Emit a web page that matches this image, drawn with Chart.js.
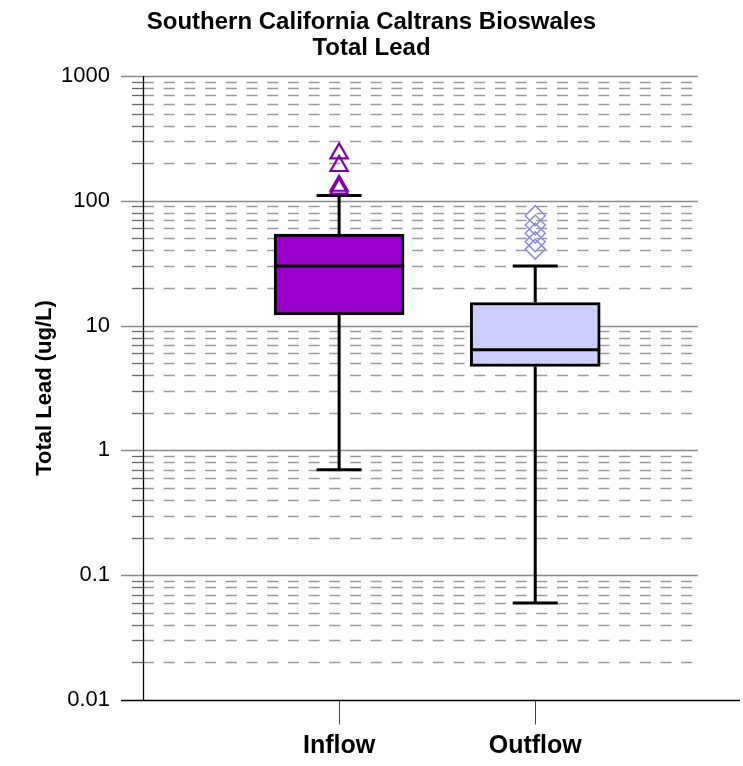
<!DOCTYPE html>
<html><head><meta charset="utf-8">
<script src="https://cdn.jsdelivr.net/npm/chart.js@4/dist/chart.umd.min.js"></script>
<style>html,body{margin:0;padding:0;background:#fff}</style>
</head><body>
<canvas id="c" width="743" height="766" style="display:block;width:743px;height:766px"></canvas>
<script>
// ---- data ----
const categories = ['Inflow', 'Outflow'];
const categoryPositions = [1, 2];
const whiskerLow = [0.7, 0.06];
const quartile1 = [12.2, 4.7];
const medians = [30, 6.4];
const quartile3 = [54, 15.3];
const whiskerHigh = [110, 30];
const inflowOutliers = [240, 190, 132, 125];
const outflowOutliers = [76, 64, 55, 47, 41];
const yTickValues = [0.01, 0.1, 1, 10, 100, 1000];
const yTickLabels = ['0.01', '0.1', '1', '10', '100', '1000'];
const minorSteps = [2, 3, 4, 5, 6, 7, 8, 9];
const boxColors = ['#9900CC', '#CCCCFF'];

const FONT = "'Liberation Sans', Arial, sans-serif";

const decor = {
  id: 'decor',
  beforeDatasetsDraw(chart) {
    const {ctx, chartArea: ca, scales: {x, y}} = chart;
    ctx.save();
    for (let d = 0; d < yTickValues.length - 1; d++) {
      for (const m of minorSteps) {
        const py = Math.round(y.getPixelForValue(yTickValues[d] * m)) + 0.5;
        ctx.setLineDash([]);
        ctx.strokeStyle = '#666';
        ctx.lineWidth = 1.3;
        ctx.beginPath(); ctx.moveTo(ca.left - 11, py); ctx.lineTo(ca.left, py); ctx.stroke();
        ctx.setLineDash([11, 9.7]);
        ctx.strokeStyle = '#9a9a9a';
        ctx.beginPath(); ctx.moveTo(ca.left, py); ctx.lineTo(ca.right, py); ctx.stroke();
      }
    }
    ctx.setLineDash([]);
    yTickValues.forEach((v, i) => {
      if (i === 0) return;
      const py = Math.round(y.getPixelForValue(v)) + 0.5;
      ctx.strokeStyle = '#8a8a8a';
      ctx.lineWidth = 1.3;
      ctx.beginPath(); ctx.moveTo(ca.left - 22, py); ctx.lineTo(ca.right, py); ctx.stroke();
    });
    ctx.strokeStyle = '#000';
    ctx.lineWidth = 1.3;
    ctx.beginPath(); ctx.moveTo(ca.left + 0.5, ca.top); ctx.lineTo(ca.left + 0.5, ca.bottom); ctx.stroke();
    const by = Math.round(y.getPixelForValue(yTickValues[0])) + 0.5;
    ctx.lineWidth = 1.6;
    ctx.beginPath(); ctx.moveTo(ca.left - 22, by); ctx.lineTo(chart.width - 3, by); ctx.stroke();
    ctx.strokeStyle = '#444';
    ctx.lineWidth = 1;
    categoryPositions.forEach(p => {
      const px = Math.round(x.getPixelForValue(p)) + 0.5;
      ctx.beginPath(); ctx.moveTo(px, by); ctx.lineTo(px, by + 24); ctx.stroke();
    });
    ctx.restore();
  },
  afterDatasetDraw(chart, args) {
    if (args.index !== 0) return;
    const {ctx, scales: {x, y}} = chart;
    const meta = chart.getDatasetMeta(0);
    ctx.save();
    ctx.strokeStyle = '#000';
    ctx.lineWidth = 3;
    categoryPositions.forEach((p, i) => {
      const px = x.getPixelForValue(p);
      const bar = meta.data[i];
      const half = bar.width / 2;
      const yHi = y.getPixelForValue(whiskerHigh[i]);
      const yLo = y.getPixelForValue(whiskerLow[i]);
      const yQ1 = y.getPixelForValue(quartile1[i]);
      const yQ3 = y.getPixelForValue(quartile3[i]);
      const yMed = y.getPixelForValue(medians[i]);
      ctx.beginPath();
      ctx.moveTo(px, yQ3); ctx.lineTo(px, yHi);
      ctx.moveTo(px, yQ1); ctx.lineTo(px, yLo);
      ctx.moveTo(px - 22.5, yHi); ctx.lineTo(px + 22.5, yHi);
      ctx.moveTo(px - 22.5, yLo); ctx.lineTo(px + 22.5, yLo);
      ctx.moveTo(bar.x - half, yMed); ctx.lineTo(bar.x + half, yMed);
      ctx.stroke();
    });
    ctx.restore();
  }
};

new Chart(document.getElementById('c'), {
  type: 'bar',
  data: {
    datasets: [
      {
        type: 'bar',
        order: 2,
        data: categoryPositions.map((p, i) => ({x: p, y: [quartile1[i], quartile3[i]]})),
        backgroundColor: boxColors,
        borderColor: '#000',
        borderWidth: 3,
        borderSkipped: false,
        barThickness: 130
      },
      {
        type: 'scatter',
        order: 1,
        data: inflowOutliers.map(v => ({x: categoryPositions[0], y: v})),
        pointStyle: 'triangle',
        radius: 10,
        borderWidth: 2.2,
        borderColor: '#8000A8',
        backgroundColor: 'rgba(255,255,255,0)'
      },
      {
        type: 'scatter',
        order: 1,
        data: outflowOutliers.map(v => ({x: categoryPositions[1], y: v})),
        pointStyle: 'rectRot',
        radius: 10,
        borderWidth: 1.5,
        borderColor: '#8C8CD0',
        backgroundColor: 'rgba(255,255,255,0)'
      }
    ]
  },
  options: {
    responsive: false,
    animation: false,
    devicePixelRatio: 1,
    layout: {padding: 0},
    plugins: {
      legend: {display: false},
      tooltip: {enabled: false},
      title: {
        display: true,
        text: ['Southern California Caltrans Bioswales', 'Total Lead'],
        color: '#000',
        font: {family: FONT, size: 24, weight: 'bold', lineHeight: 1.083},
        padding: {top: 9, bottom: 15}
      }
    },
    scales: {
      x: {
        type: 'linear',
        position: 'bottom',
        offset: false,
        min: 0,
        max: 2.83,
        grid: {display: false, drawTicks: false},
        border: {display: false},
        afterBuildTicks: s => { s.ticks = categoryPositions.map(v => ({value: v})); },
        afterFit: s => { s.height = 66; },
        ticks: {
          autoSkip: false,
          maxRotation: 0,
          padding: 31,
          color: '#000',
          font: {family: FONT, size: 25, weight: 'bold'},
          callback: v => categories[categoryPositions.indexOf(v)]
        }
      },
      y: {
        type: 'logarithmic',
        min: 0.01,
        max: 1000,
        grid: {display: false, drawTicks: false},
        border: {display: false},
        afterBuildTicks: s => { s.ticks = yTickValues.map(v => ({value: v})); },
        afterFit: s => { s.width = 143; },
        ticks: {
          autoSkip: false,
          padding: 33,
          color: '#000',
          font: {family: FONT, size: 22},
          callback: v => yTickLabels[yTickValues.indexOf(v)]
        },
        title: {
          display: true,
          text: 'Total Lead (ug/L)',
          color: '#000',
          font: {family: FONT, size: 22, weight: 'bold'},
          padding: {top: 32, bottom: 0}
        }
      },
      yRight: {
        type: 'logarithmic',
        position: 'right',
        min: 0.01,
        max: 1000,
        grid: {display: false, drawTicks: false},
        border: {display: false},
        ticks: {display: false},
        afterFit: s => { s.width = 45; }
      }
    }
  },
  plugins: [decor]
});
</script>
</body></html>
